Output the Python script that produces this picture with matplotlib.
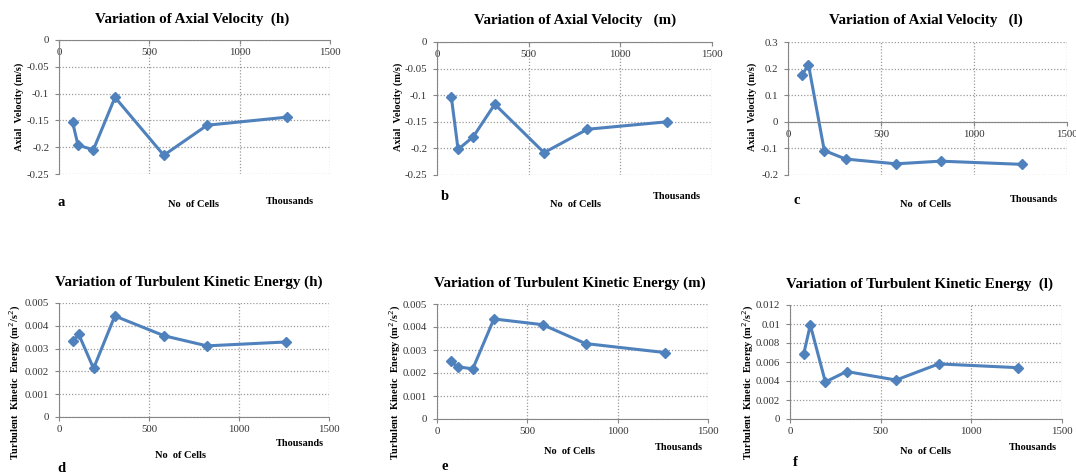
import matplotlib
matplotlib.use('Agg')
import matplotlib.pyplot as plt
from matplotlib.ticker import FuncFormatter, MultipleLocator

plt.rcParams['font.family'] = ['Liberation Serif', 'DejaVu Serif']

W, H = 1076, 474

# mesh sizes (thousands of cells)
cells_a = [75, 105, 190, 310, 580, 820, 1260]
cells_b = [78, 115, 198, 315, 584, 820, 1255]
cells_c = [75, 110, 195, 310, 580, 820, 1260]
cells_d = [75, 110, 192, 310, 585, 822, 1260]
cells_e = [75, 115, 198, 315, 585, 822, 1260]
cells_f = [75, 112, 195, 312, 585, 820, 1260]

vel_h = [-0.153, -0.196, -0.205, -0.107, -0.215, -0.159, -0.144]
vel_m = [-0.103, -0.202, -0.178, -0.117, -0.208, -0.164, -0.150]
vel_l = [0.175, 0.215, -0.108, -0.140, -0.158, -0.148, -0.160]

tke_h = [0.00332, 0.00362, 0.00213, 0.00443, 0.00356, 0.00312, 0.00329]
tke_m = [0.00251, 0.00227, 0.00218, 0.00435, 0.00410, 0.00328, 0.00289]
tke_l = [0.0068, 0.0099, 0.0039, 0.0050, 0.0041, 0.0058, 0.0054]

fig = plt.figure(figsize=(W / 100, H / 100), dpi=100)

BLUE = '#4F81BD'
GRID = '#9a9a9a'
AXC = '#868686'

tick_fmt = FuncFormatter(lambda v, pos: '%g' % round(v, 6))


def px_axes(x0, x1, y0, y1):
    return fig.add_axes([x0 / W, 1 - y1 / H, (x1 - x0) / W, (y1 - y0) / H])


def ftext(xy, s, **kw):
    fig.text(xy[0] / W, 1 - xy[1] / H, s, va='center', fontweight='bold', **kw)


def panel(box, x, y, ylim, ystep, title, title_xy, ylabel, ylab_xy,
          letter_xy, cells_xy, thou_xy, letter):
    ax = px_axes(*box)
    ax.plot(x, y, color=BLUE, lw=2.2, marker='D', ms=5.5, mec=BLUE, mfc=BLUE)
    ax.set_xlim(0, 1500)
    ax.set_ylim(*ylim)
    ax.xaxis.set_major_locator(MultipleLocator(500))
    ax.yaxis.set_major_locator(MultipleLocator(ystep))
    ax.yaxis.set_major_formatter(tick_fmt)
    ax.grid(True, ls=(0, (1, 1.5)), color=GRID, lw=0.9)
    for s in ('top', 'right'):
        ax.spines[s].set_visible(False)
    ax.spines['left'].set_color(AXC)
    ax.spines['bottom'].set_color(AXC)
    ax.spines['bottom'].set_position(('data', 0))
    ax.tick_params(axis='both', labelsize=7.8, labelcolor='#333333', length=3,
                   width=0.8, pad=3, color=AXC, direction='out')
    ax.tick_params(axis='y', pad=4)
    ax.set_axisbelow(True)

    ftext(title_xy, title, ha='center', fontsize=10.8)
    ftext(ylab_xy, ylabel, ha='center', rotation=90, fontsize=7.4)
    ftext(letter_xy, letter, ha='left', fontsize=10.5)
    ftext(cells_xy, 'No  of Cells', ha='center', fontsize=7.5)
    ftext(thou_xy, 'Thousands', ha='center', fontsize=7.4)
    return ax


va = 'Axial  Velocity (m/s)'
tk = 'Turbulent  Kinetic  Energy (m$^2$/s$^2$)'

panel((59, 330, 40, 174), cells_a, vel_h, (-0.25, 0), 0.05,
      'Variation of Axial Velocity  (h)', (192, 19), va, (19, 107),
      (58, 202), (194, 204), (290, 201), 'a')
panel((437, 712, 42, 175), cells_b, vel_m, (-0.25, 0), 0.05,
      'Variation of Axial Velocity   (m)', (575, 20), va, (398, 107),
      (441, 197), (575, 205), (677, 197), 'b')
panel((788, 1067, 42, 175), cells_c, vel_l, (-0.2, 0.3), 0.1,
      'Variation of Axial Velocity   (l)', (926, 20), va, (752, 107),
      (794, 200), (926, 205), (1034, 200), 'c')
panel((59, 329, 303, 417), cells_d, tke_h, (0, 0.005), 0.001,
      'Variation of Turbulent Kinetic Energy (h)', (189, 282), tk, (15, 382),
      (57, 468), (181, 456), (300, 444), 'd')
panel((437, 708, 304, 419), cells_e, tke_m, (0, 0.005), 0.001,
      'Variation of Turbulent Kinetic Energy (m)', (570, 283), tk, (395, 382),
      (442, 467), (570, 452), (679, 447), 'e')
panel((790, 1062, 305, 419), cells_f, tke_l, (0, 0.012), 0.002,
      'Variation of Turbulent Kinetic Energy  (l)', (920, 284), tk, (748, 382),
      (793, 463), (926, 452), (1033, 447), 'f')

fig.savefig('out.png', dpi=100, facecolor='white')
